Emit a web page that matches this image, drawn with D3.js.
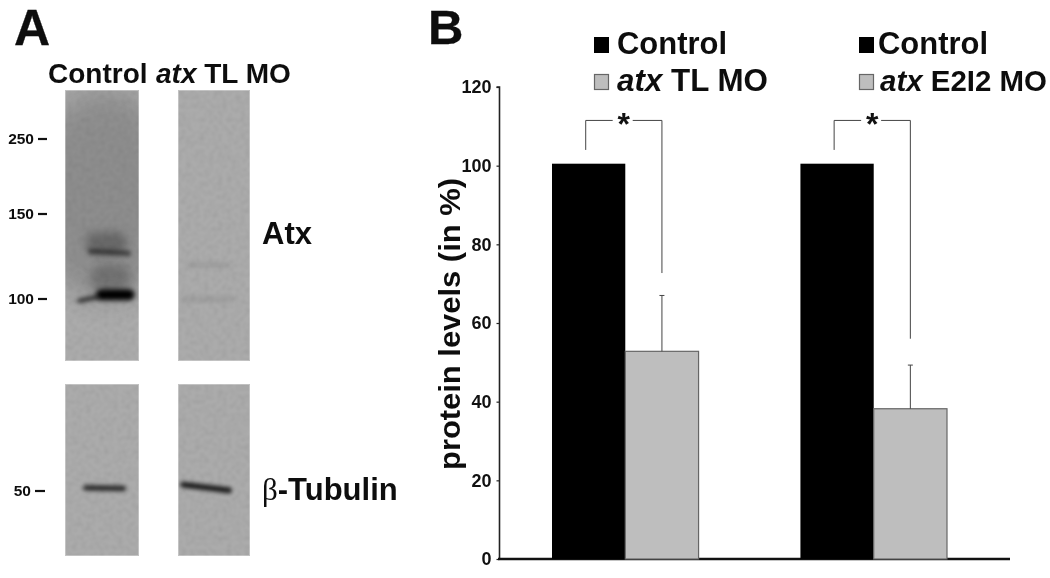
<!DOCTYPE html>
<html><head><meta charset="utf-8">
<script src="https://cdn.jsdelivr.net/npm/d3@7"></script>
<style>html,body{margin:0;background:#fff}svg{display:block}text{font-family:"Liberation Sans",Arial,sans-serif;font-weight:bold;fill:#111}</style>
</head><body><div id="c"></div>
<script>
const groups = ["atx TL MO","atx E2I2 MO"];
const controlValues = [100.5,100.5];
const moValues = [52.8,38.2];
const moErrorTops = [67,49.3];
const bracketRightEnds = [72.7,56];
const bracketTop = 111.5;
const bracketLeftEnd = 104;
const yTicks = [0,20,40,60,80,100,120];
const mwTicks = [250,150,100];
const mwTubulin = [50];
const lanes = ["Control","atx TL MO"];
// blot bands: lane, mw position, lane-relative centre and half width, thickness, darkness, blur, tilt
const atxBands = [
 {lane:0,mw:133,cx:.56,w:.28,h:11,o:.26,blur:5,tilt:0},
 {lane:0,mw:112,cx:.62,w:.28,h:14,o:.2,blur:5,tilt:0},
 {lane:0,mw:127.5,cx:.6,w:.29,h:2.6,o:.55,blur:2,tilt:3},
 {lane:0,mw:102.5,cx:.68,w:.26,h:5.5,o:1,blur:2.5,tilt:0},
 {lane:0,mw:100,cx:.31,w:.15,h:2.2,o:.7,blur:2,tilt:-12},
 {lane:1,mw:120,cx:.42,w:.32,h:2.5,o:.08,blur:2.5,tilt:0},
 {lane:1,mw:100,cx:.42,w:.38,h:2.2,o:.1,blur:2.5,tilt:0}];
const tubBands = [
 {lane:0,mw:50.42,cx:.535,w:.29,h:2.6,o:.8,blur:2,tilt:1},
 {lane:1,mw:50.5,cx:.39,w:.36,h:2.8,o:.9,blur:2,tilt:7}];

const W=1050,H=578;
const svg=d3.select("#c").append("svg").attr("width",W).attr("height",H);
const defs=svg.append("defs");
const fid=b=>"b"+String(b).replace(".","_");
[2,2.5,5,14].forEach(b=>defs.append("filter").attr("id",fid(b))
  .attr("x","-60%").attr("y","-300%").attr("width","220%").attr("height","700%")
  .append("feGaussianBlur").attr("stdDeviation",b));
defs.append("filter").attr("id","soft").attr("x","-5%").attr("y","-5%").attr("width","110%").attr("height","110%").append("feGaussianBlur").attr("stdDeviation",.35);
const grain=defs.append("filter").attr("id","grain");
grain.append("feTurbulence").attr("type","fractalNoise").attr("baseFrequency",.22).attr("numOctaves",2).attr("seed",4);
grain.append("feColorMatrix").attr("values","0 0 0 0 0  0 0 0 0 0  0 0 0 0 0  0.9 0 0 0 -0.38");
grain.append("feGaussianBlur").attr("stdDeviation",.9);
const soft=svg.append("g").attr("filter","url(#soft)");

// ---------- Panel A
const txt=(p,x,y,s,size,o={})=>p.append("text").attr("x",x).attr("y",y).attr("font-size",size)
   .attr("text-anchor",o.anchor||"start").attr("font-style",o.italic?"italic":null).text(s);
txt(soft,14,45,"A",50).attr("stroke","#111").attr("stroke-width",.3);
const mwY=d3.scaleLinear().domain(mwTicks).range([139,214,299]);
const tubY=d3.scaleLinear().domain([50,51]).range([491,484]);
const laneWidths=[74,72], laneXs=[65,178];
const blots=svg.append("g");
function blot(y0,y1,bands,ys){
  [0,1].forEach(l=>{
    const clip="clip"+y0+l;
    defs.append("clipPath").attr("id",clip).append("rect").attr("x",laneXs[l]).attr("y",y0).attr("width",laneWidths[l]).attr("height",y1-y0);
    const g=blots.append("g").attr("clip-path",`url(#${clip})`);
    g.append("rect").attr("x",laneXs[l]).attr("y",y0).attr("width",laneWidths[l]).attr("height",y1-y0).attr("fill","#ababab");
    if(y0<200&&l==0){
      g.append("ellipse").attr("cx",laneXs[l]+40).attr("cy",195).attr("rx",75).attr("ry",105).attr("fill","#000").attr("opacity",.17).attr("filter",`url(#${fid(14)})`);
    }
    bands.filter(b=>b.lane==l).forEach(b=>{
      const cx=laneXs[l]+b.cx*laneWidths[l], cy=ys(b.mw), hw=b.w*laneWidths[l];
      g.append("rect").attr("x",cx-hw).attr("y",cy-b.h).attr("width",2*hw).attr("height",2*b.h).attr("rx",b.h)
       .attr("fill","#000").attr("opacity",b.o)
       .attr("transform",`rotate(${b.tilt},${cx},${cy})`)
       .attr("filter",`url(#${fid(b.blur)})`);
    });
    g.append("rect").attr("x",laneXs[l]).attr("y",y0).attr("width",laneWidths[l]).attr("height",y1-y0).attr("fill","#000").attr("opacity",.16).attr("filter","url(#grain)");
    g.append("rect").attr("x",laneXs[l]+.5).attr("y",y0+.5).attr("width",laneWidths[l]-1).attr("height",y1-y0-1).attr("fill","none").attr("stroke","#fff").attr("stroke-opacity",.3);
  });
}
blot(90,361,atxBands,mwY);
blot(384,556,tubBands,tubY);
const tickRow=(vals,ys,x1,x2,lab)=>vals.forEach(v=>{
  svg.append("line").attr("x1",x1).attr("x2",x2).attr("y1",ys(v)).attr("y2",ys(v)).attr("stroke","#111").attr("stroke-width",2.2);
  txt(soft,lab,ys(v)+5,String(v),15.5,{anchor:"end"});
});
tickRow(mwTicks,mwY,38,47,34);
tickRow(mwTubulin,tubY,35,45,31);
txt(soft,48,83,"Control",28);
const l2=soft.append("text").attr("x",156).attr("y",83).attr("font-size",28);
l2.append("tspan").attr("font-style","italic").text("atx");
l2.append("tspan").text(" TL MO");
txt(soft,262,244,"Atx",31);
const tb=soft.append("text").attr("x",262).attr("y",500).attr("font-size",31);
tb.append("tspan").style("font-family","'Liberation Serif',serif").style("font-weight","normal").text("β");
tb.append("tspan").text("-Tubulin");

// ---------- Panel B
txt(soft,428,44,"B",49).attr("stroke","#111").attr("stroke-width",.3);
const y=d3.scaleLinear().domain([0,120]).range([559,87]);
const x0=d3.scaleBand().domain(groups).range([552,947]).paddingInner(.41);
const x1=d3.scaleBand().domain(["c","m"]).range([0,x0.bandwidth()]);
const axis=svg.append("g").attr("transform","translate(499.5,0)")
  .call(d3.axisLeft(y).tickValues(yTicks).tickSize(3).tickPadding(5));
axis.select(".domain").attr("stroke","#222").attr("stroke-width",1.6).attr("d",`M-3,${y(120)}H0V${y(0)}`);
axis.selectAll(".tick line").attr("stroke","#222").attr("stroke-width",1.2);
axis.selectAll("text").style("font-size","18px").style("font-family","'Liberation Sans'").style("font-weight","bold").attr("fill","#222");
svg.append("line").attr("x1",498).attr("x2",1010).attr("y1",y(0)).attr("y2",y(0)).attr("stroke","#111").attr("stroke-width",2.6);
txt(soft,0,0,"protein levels (in %)",30,{anchor:"middle"}).attr("textLength",292).attr("lengthAdjust","spacingAndGlyphs").attr("transform","translate(460,324) rotate(-90)");

const g=svg.selectAll(".grp").data(groups).join("g").attr("transform",d=>`translate(${x0(d)},0)`);
g.append("rect").attr("x",x1("c")).attr("width",x1.bandwidth()).attr("y",(d,i)=>y(controlValues[i])).attr("height",(d,i)=>y(0)-y(controlValues[i])).attr("fill","#000");
g.append("rect").attr("x",x1("m")).attr("width",x1.bandwidth()).attr("y",(d,i)=>y(moValues[i])).attr("height",(d,i)=>y(0)-y(moValues[i])).attr("fill","#bebebe").attr("stroke","#666").attr("stroke-width",1.2);
const mid=x1("m")+x1.bandwidth()/2;
g.append("line").attr("x1",mid).attr("x2",mid).attr("y1",(d,i)=>y(moErrorTops[i])).attr("y2",(d,i)=>y(moValues[i])).attr("stroke","#444").attr("stroke-width",1);
g.append("line").attr("x1",mid-2.5).attr("x2",mid+2.5).attr("y1",(d,i)=>y(moErrorTops[i])).attr("y2",(d,i)=>y(moErrorTops[i])).attr("stroke","#444").attr("stroke-width",1);
// significance brackets
const bl=x1.bandwidth()*.46, br=x1("m")+x1.bandwidth()*.5;
g.append("path").attr("fill","none").attr("stroke","#444").attr("stroke-width",1)
 .attr("d",(d,i)=>`M${bl},${y(bracketLeftEnd)}V${y(bracketTop)}H${bl+27}M${bl+47},${y(bracketTop)}H${br}V${y(bracketRightEnds[i])}`);
g.append("text").attr("x",bl+38).attr("y",y(bracketTop)+15).attr("text-anchor","middle").attr("font-size",32).text("*");
// legends
const legends=[{x:594,tx:617,tx2:617,w:151,size:31.5,name:groups[0]},{x:859,tx:878,tx2:880,w:167,size:29.5,name:groups[1]}];
legends.forEach(l=>{
  svg.append("rect").attr("x",l.x).attr("y",37).attr("width",15).attr("height",16).attr("fill","#000");
  svg.append("rect").attr("x",l.x+.5).attr("y",74.5).attr("width",14).attr("height",15).attr("fill","#bebebe").attr("stroke","#666").attr("stroke-width",1.2);
  txt(soft,l.tx,54,"Control",31).attr("textLength",110).attr("lengthAdjust","spacingAndGlyphs");
  const t=soft.append("text").attr("x",l.tx2).attr("y",91).attr("font-size",l.size).attr("textLength",l.w).attr("lengthAdjust","spacingAndGlyphs");
  t.append("tspan").attr("font-style","italic").text("atx");
  t.append("tspan").text(" "+l.name.replace("atx ",""));
});
</script></body></html>
